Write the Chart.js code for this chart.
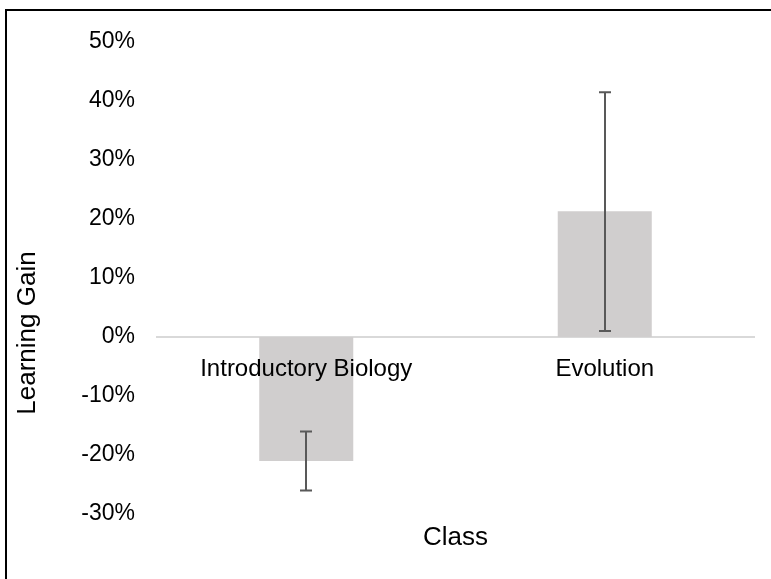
<!DOCTYPE html>
<html>
<head>
<meta charset="utf-8">
<script src="https://cdn.jsdelivr.net/npm/chart.js@4/dist/chart.umd.min.js"></script>
<style>
  body { margin: 0; background: #fff; }
  #wrap { position: relative; width: 771px; height: 579px; overflow: hidden; }
  #frame { position: absolute; left: 5px; top: 9px; width: 900px; height: 700px;
           border-left: 2px solid #000; border-top: 2px solid #000; pointer-events: none; }
  canvas { position: absolute; left: 0; top: 0; }
</style>
</head>
<body>
<div id="wrap">
  <canvas id="gainChart" width="771" height="579"></canvas>
  <div id="frame"></div>
</div>
<script>
const categories = ['Introductory Biology', 'Evolution'];
const gains = [-21, 21.3];
const errLow = [-26, 1];
const errHigh = [-16, 41.5];
const yTicks = [-30, -20, -10, 0, 10, 20, 30, 40, 50];

const FONT = "'Liberation Sans', Arial, sans-serif";

// error bars and axis titles, placed through the chart scales
const errorBars = {
  id: 'errorBars',
  afterDatasetsDraw(chart) {
    const { ctx, scales: { x, y }, chartArea } = chart;
    ctx.save();
    ctx.strokeStyle = '#595959';
    ctx.lineWidth = 2;
    categories.forEach((c, i) => {
      const px = Math.round(x.getPixelForValue(i));
      const top = y.getPixelForValue(errHigh[i]);
      const bot = y.getPixelForValue(errLow[i]);
      ctx.beginPath();
      ctx.moveTo(px, top); ctx.lineTo(px, bot);
      ctx.moveTo(px - 6, top); ctx.lineTo(px + 6, top);
      ctx.moveTo(px - 6, bot); ctx.lineTo(px + 6, bot);
      ctx.stroke();
    });
    ctx.fillStyle = '#000';
    ctx.font = '26px ' + FONT;
    ctx.textAlign = 'center';
    ctx.textBaseline = 'middle';
    ctx.fillText('Class', (chartArea.left + chartArea.right) / 2, 538);
    ctx.translate(28, 333);
    ctx.rotate(-Math.PI / 2);
    ctx.fillText('Learning Gain', 0, 0);
    ctx.restore();
  }
};

new Chart(document.getElementById('gainChart').getContext('2d'), {
  type: 'bar',
  data: {
    labels: categories,
    datasets: [{
      data: gains,
      backgroundColor: '#d0cece',
      barPercentage: 0.315,
      categoryPercentage: 1
    }]
  },
  options: {
    responsive: false,
    animation: false,
    layout: { padding: { left: 0, right: 17, top: 42, bottom: 65 } },
    plugins: {
      legend: { display: false },
      title: { display: false },
      tooltip: { enabled: false }
    },
    scales: {
      x: {
        position: { y: 0 },
        grid: { color: 'rgba(0,0,0,0)', drawTicks: false },
        border: { display: true, color: '#d9d9d9', width: 2 },
        ticks: { z: 1, color: '#000', padding: 18, font: { family: FONT, size: 24 } }
      },
      y: {
        min: -30,
        max: 50,
        afterBuildTicks: (scale) => { scale.ticks = yTicks.map(v => ({ value: v })); },
        afterFit: (scale) => { scale.width = 157; },
        grid: { display: false, drawTicks: false },
        border: { display: false },
        ticks: {
          color: '#000',
          padding: 22,
          font: { family: FONT, size: 23 },
          callback: (v) => v + '%'
        }
      }
    }
  },
  plugins: [errorBars]
});
</script>
</body>
</html>
